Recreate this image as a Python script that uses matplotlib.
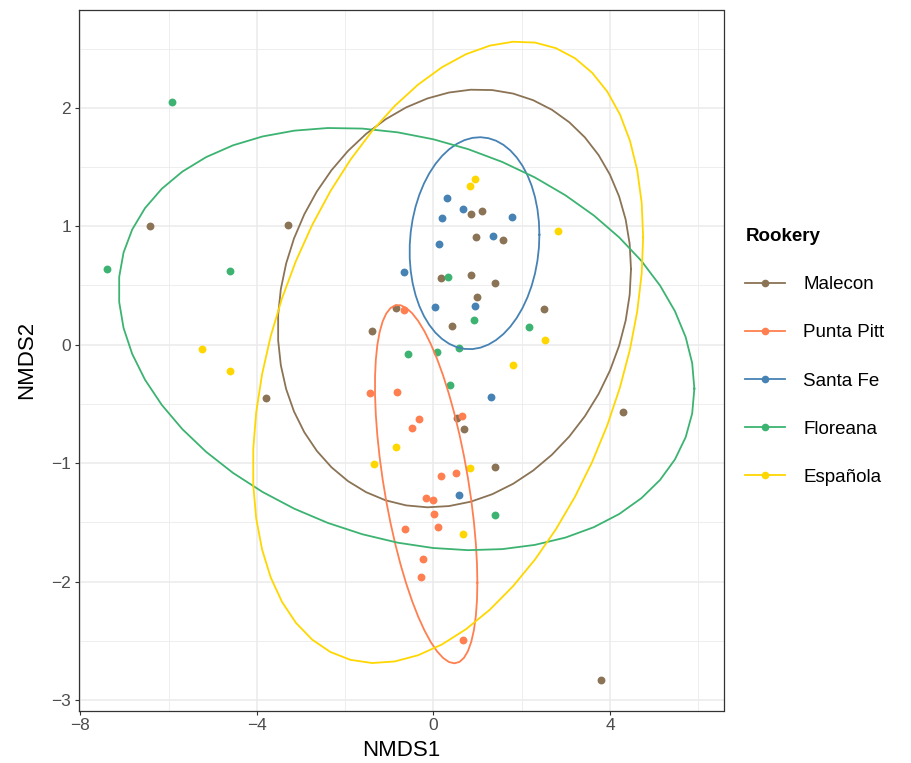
import numpy as np
import matplotlib.pyplot as plt
from matplotlib.lines import Line2D

plt.rcParams['font.family'] = ['Liberation Sans', 'DejaVu Sans']

# Rookery groups and colours
groups = ['Malecon', 'Punta Pitt', 'Santa Fe', 'Floreana', 'Española']
colors = ['#8B7355', '#FF7F50', '#4682B4', '#3CB371', '#FFD700']

# NMDS scores
malecon_x = [-6.43, -3.29, -3.80, 0.85, 1.11, 0.97, 1.57, 0.17, 0.86, 1.39,
             0.98, -0.84, 2.51, -1.39, 0.43, 0.54, 0.70, 1.40, 4.29, 3.79]
malecon_y = [1.00, 1.01, -0.45, 1.10, 1.13, 0.91, 0.88, 0.56, 0.59, 0.52,
             0.40, 0.31, 0.30, 0.12, 0.16, -0.62, -0.71, -1.03, -0.57, -2.83]

puntapitt_x = [-0.66, -1.43, -0.82, -0.33, -0.48, 0.64, 0.17, 0.51,
               -0.17, -0.01, 0.02, -0.65, 0.10, -0.23, -0.29, 0.68]
puntapitt_y = [0.29, -0.41, -0.40, -0.63, -0.70, -0.60, -1.11, -1.08,
               -1.29, -1.31, -1.43, -1.56, -1.54, -1.81, -1.96, -2.49]

santafe_x = [0.30, 0.66, 0.20, 1.77, 1.35, 0.13, -0.67, 0.03, 0.94, 1.31, 0.58]
santafe_y = [1.24, 1.15, 1.07, 1.08, 0.92, 0.85, 0.61, 0.32, 0.33, -0.44, -1.27]

floreana_x = [-5.92, -7.40, -4.61, 0.33, 0.92, 2.17, -0.57, 0.07, 0.57, 0.38, 1.39]
floreana_y = [2.05, 0.64, 0.62, 0.57, 0.21, 0.15, -0.08, -0.06, -0.03, -0.34, -1.44]

espanola_x = [0.95, 0.82, 2.83, -5.24, -4.61, 2.52, 1.81, -0.85, -1.35, 0.83, 0.68]
espanola_y = [1.40, 1.34, 0.96, -0.04, -0.22, 0.04, -0.17, -0.86, -1.01, -1.04, -1.60]

xs = [malecon_x, puntapitt_x, santafe_x, floreana_x, espanola_x]
ys = [malecon_y, puntapitt_y, santafe_y, floreana_y, espanola_y]

# 95% ellipses: centre, half extents in x / y, and cos of the phase shift (tilt)
ell_cx = [0.475, -0.165, 0.93, -0.61, 0.33]
ell_cy = [0.391, -1.177, 0.857, 0.048, -0.064]
ell_xr = [4.00, 1.16, 1.47, 6.52, 4.42]
ell_yr = [1.764, 1.513, 0.895, 1.783, 2.624]
ell_cos = [0.14, -0.55, 0.08, -0.235, 0.37]

fig = plt.figure(figsize=(9.12, 7.63), dpi=100)
ax = fig.add_axes([78.7 / 912, 52.3 / 763, (723.5 - 78.7) / 912, (710.7 - 10) / 763])

for gx, gy, c in zip(xs, ys, colors):
    ax.scatter(gx, gy, s=32, color=c, linewidths=0, zorder=3)

t = np.linspace(0, 2 * np.pi, 52)
for i, c in enumerate(colors):
    d = np.arccos(ell_cos[i])
    ex = ell_cx[i] + ell_xr[i] * np.cos(t)
    ey = ell_cy[i] + ell_yr[i] * np.cos(t - d)
    ax.plot(ex, ey, color=c, linewidth=1.3, zorder=4)

ax.set_xlim(-8.035, 6.57)
ax.set_ylim(-3.09, 2.826)
ax.set_xticks([-8, -4, 0, 4])
ax.set_yticks([-3, -2, -1, 0, 1, 2])
ax.set_xticks([-6, -2, 2, 6], minor=True)
ax.set_yticks([-2.5, -1.5, -0.5, 0.5, 1.5, 2.5], minor=True)
ax.grid(which='major', color='#EBEBEB', linewidth=1.1, zorder=0)
ax.grid(which='minor', color='#EBEBEB', linewidth=0.6, zorder=0)
ax.set_axisbelow(True)
ax.tick_params(which='major', length=2.6, width=0.8, color='#333333',
               labelsize=12.5, labelcolor='#4D4D4D', pad=3)
ax.tick_params(which='minor', length=0)
for sp in ax.spines.values():
    sp.set_color('#333333')
    sp.set_linewidth(0.9)

ax.set_xlabel('NMDS1', fontsize=16, labelpad=5)
ax.set_ylabel('NMDS2', fontsize=16, labelpad=10)

handles = [Line2D([], [], color=c, marker='o', markersize=5.5, linewidth=1.3,
                  markeredgewidth=0) for c in colors]
leg = fig.legend(handles, groups, title='Rookery', loc='center left',
                 bbox_to_anchor=(736 / 912, 1 - 357 / 763), frameon=False,
                 fontsize=13.5, title_fontproperties={'weight': 'bold', 'size': 13.5},
                 handlelength=2.1, handletextpad=1.0, labelspacing=1.65,
                 borderpad=0, alignment='left')

fig.savefig('out.png', dpi=100)
